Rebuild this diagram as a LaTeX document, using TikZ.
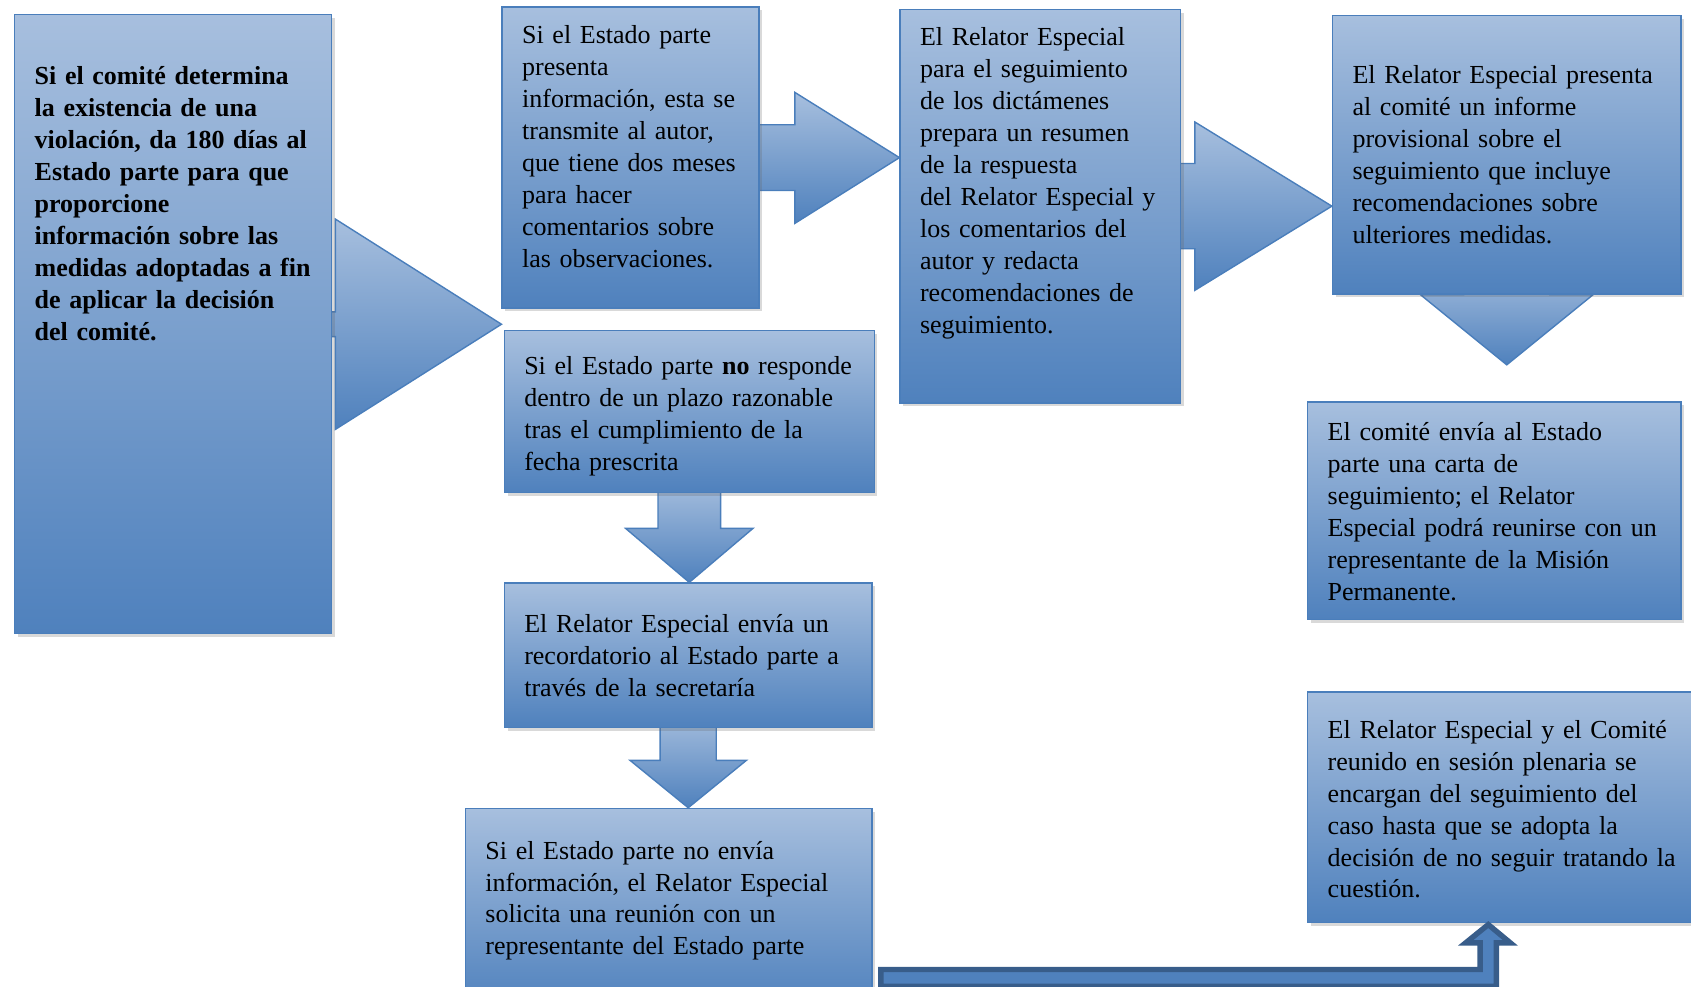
\documentclass[tikz,border=0pt]{standalone}
\usepackage{fontspec}
\setmainfont{Liberation Serif}
\usepackage{xcolor}
\usetikzlibrary{calc,shadows,backgrounds}
\usetikzlibrary{positioning}

\definecolor{boxtop}{HTML}{A7BFDE}
\definecolor{boxbot}{HTML}{4F81BD}
\definecolor{boxline}{HTML}{4A7EBB}
\definecolor{arrline}{HTML}{385D8A}

\begin{document}
\begin{tikzpicture}[x=1pt,y=-1pt,
    box/.style={draw=boxline, line width=1.3pt, top color=boxtop, bottom color=boxbot,
      anchor=north west, inner sep=0pt, align=left,
      font=\fontsize{24.1}{29.6}\selectfont,
      execute at begin node={\leftskip=18.5pt},
      drop shadow={shadow xshift=3pt, shadow yshift=-3pt, opacity=0.25, fill=black!60}},
    blockarrow/.style={draw=boxline, line width=1.3pt, top color=boxtop, bottom color=boxbot},
    bentarrow/.style={draw=arrline, line width=5pt, fill=boxbot, line join=miter}]
            \useasboundingbox (0,0) rectangle (1568,915);
            \node[box, text width=294pt, text height=65pt, text depth=509pt] (boxA) at (13,13) {\bfseries Si el comité determina\\ la existencia de una\\ violación, da 180 días al\\ Estado parte para que\\ proporcione\\ información sobre las\\ medidas adoptadas a fin\\ de aplicar la decisión\\ del comité.};
            \node[box, text width=238pt, text height=34pt, text depth=245pt] (boxB) at (465,6) {Si el Estado parte\\ presenta\\ información, esta se\\ transmite al autor,\\ que tiene dos meses\\ para hacer\\ comentarios sobre\\ las observaciones.};
            \node[box, text width=260pt, text height=34pt, text depth=331pt] (boxC) at (834,8) {El Relator Especial\\ para el seguimiento\\ de los dictámenes\\ prepara un resumen\\ de la respuesta\\ del Relator Especial y\\ los comentarios del\\ autor y redacta\\ recomendaciones de\\ seguimiento.};
            \node[box, text width=323pt, text height=63pt, text depth=195pt] (boxD) at (1235,14) {El Relator Especial presenta\\ al comité un informe\\ provisional sobre el\\ seguimiento que incluye\\ recomendaciones sobre\\ ulteriores medidas.};
            \node[box, text width=346pt, text height=36pt, text depth=166pt] (boxE) at (1212,372) {El comité envía al Estado\\ parte una carta de\\ seguimiento; el Relator\\ Especial podrá reunirse con un\\ representante de la Misión\\ Permanente.};
            \node[box, text width=368pt, text height=43pt, text depth=171pt] (boxF) at (1212,641) {El Relator Especial y el Comité\\ reunido en sesión plenaria se\\ encargan del seguimiento del\\ caso hasta que se adopta la\\ decisión de no seguir tratando la\\ cuestión.};
            \node[box, text width=343pt, text height=41pt, text depth=109pt] (boxG) at (467,306) {Si el Estado parte \textbf{no} responde\\ dentro de un plazo razonable\\ tras el cumplimiento de la\\ fecha prescrita};
            \node[box, text width=341pt, text height=46pt, text depth=88pt] (boxH) at (467,540) {El Relator Especial envía un\\ recordatorio al Estado parte a\\ través de la secretaría};
            \node[box, text width=377pt, text height=47pt, text depth=139pt] (boxI) at (431,749) {Si el Estado parte no envía\\ información, el Relator Especial\\ solicita una reunión con un\\ representante del Estado parte};
            \begin{scope}[on background layer]
            \draw[blockarrow] (boxA.east -| boxB.west) -- ++(-154,-97.5) -- ++(0,86) -- ++(-21,0) -- ++(0,23) -- ++(21,0) -- ++(0,86) -- cycle;
            \draw[blockarrow] (boxB.east -| boxC.west) -- ++(-97,-60.5) -- ++(0,30) -- ++(-45,0) -- ++(0,61) -- ++(45,0) -- ++(0,30.5) -- cycle;
            \draw[blockarrow] (boxC.east -| boxD.west) -- ++(-127,-78) -- ++(0,38.5) -- ++(-30,0) -- ++(0,79) -- ++(30,0) -- ++(0,38.5) -- cycle;
            \draw[blockarrow] ($(boxD.south)+(0,65)$) -- ++(-80,-65) -- ++(40,0) -- ++(0,-30) -- ++(80,0) -- ++(0,30) -- ++(40,0) -- cycle;
            \draw[blockarrow] (boxG.south |- boxH.north) -- ++(-59,-50) -- ++(30,0) -- ++(0,-45) -- ++(58,0) -- ++(0,45) -- ++(30,0) -- cycle;
            \draw[blockarrow] (boxH.south |- boxI.north) -- ++(-54,-44) -- ++(28,0) -- ++(0,-45) -- ++(52,0) -- ++(0,45) -- ++(28,0) -- cycle;
            \end{scope}
            \draw[bentarrow] ($(boxI.east |- 0,899)+(7.5,0)$) -| ($(boxF.south west)+(160.5,18)$) -- ++(-13.5,0) -- ($(boxF.south west)+(168,1)$) -- ++(20.5,17) -- ++(-13,0) |- ($(boxI.east |- 0,914.5)+(7.5,0)$) -- cycle;
        \end{tikzpicture}
\end{document}
